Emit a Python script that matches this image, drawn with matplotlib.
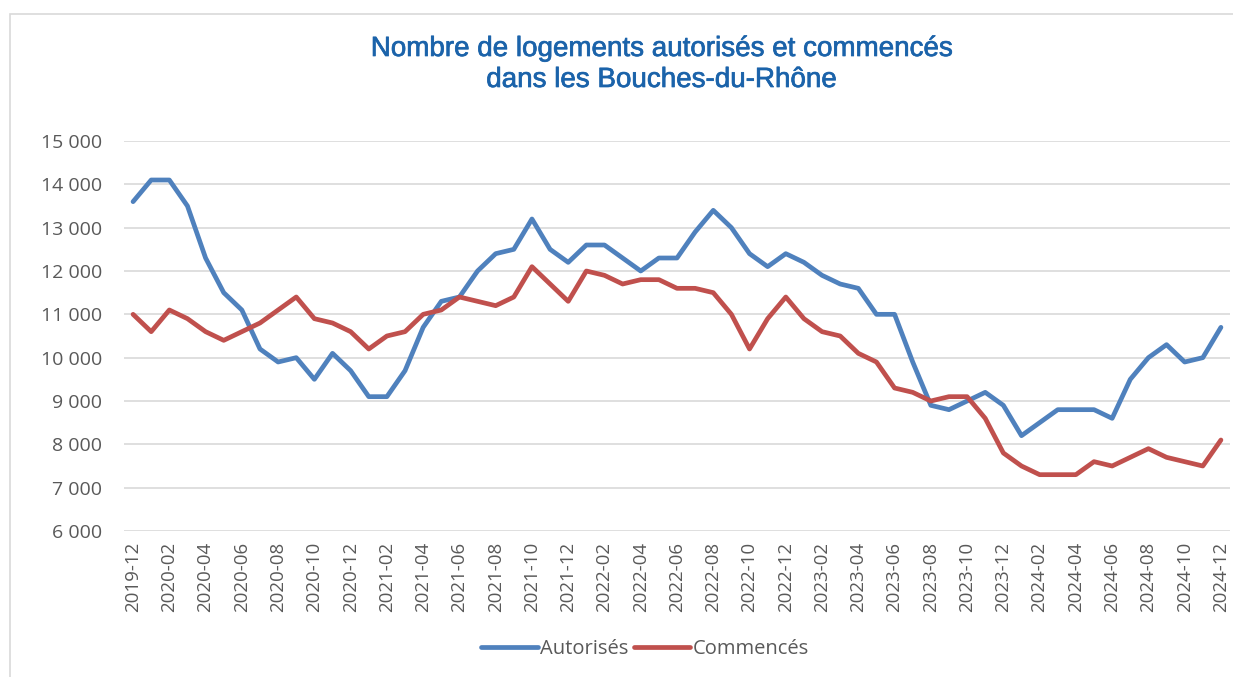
"""
Nombre de logements autorisés et commencés dans les Bouches-du-Rhône.
Recreates the chart and saves it as out.png.
"""

import matplotlib.pyplot as plt
import matplotlib.patheffects as pe
from matplotlib.patches import Rectangle

# Months, 2019-12 to 2024-12
months = []
for year in range(2019, 2025):
    for m in range(1, 13):
        if year == 2019 and m < 12:
            continue
        months.append(f"{year}-{m:02d}")

autorises = [
    13600, 14100, 14100, 13500, 12300, 11500, 11100, 10200, 9900, 10000,
    9500, 10100, 9700, 9100, 9100, 9700, 10700, 11300, 11400, 12000,
    12400, 12500, 13200, 12500, 12200, 12600, 12600, 12300, 12000, 12300,
    12300, 12900, 13400, 13000, 12400, 12100, 12400, 12200, 11900, 11700,
    11600, 11000, 11000, 9900, 8900, 8800, 9000, 9200, 8900, 8200,
    8500, 8800, 8800, 8800, 8600, 9500, 10000, 10300, 9900, 10000,
    10700,
]

commences = [
    11000, 10600, 11100, 10900, 10600, 10400, 10600, 10800, 11100, 11400,
    10900, 10800, 10600, 10200, 10500, 10600, 11000, 11100, 11400, 11300,
    11200, 11400, 12100, 11700, 11300, 12000, 11900, 11700, 11800, 11800,
    11600, 11600, 11500, 11000, 10200, 10900, 11400, 10900, 10600, 10500,
    10100, 9900, 9300, 9200, 9000, 9100, 9100, 8600, 7800, 7500,
    7300, 7300, 7300, 7600, 7500, 7700, 7900, 7700, 7600, 7500,
    8100,
]

y_ticks = list(range(6000, 15001, 1000))


def fmt(v):
    return f"{v:,}".replace(",", " ")


def main():
    fig = plt.figure(figsize=(12.33, 6.77), dpi=100)

    # light frame around the chart area
    fig.patches.append(Rectangle((10 / 1233, -0.05), 1.1, 1 - 14 / 677 + 0.05,
                                 transform=fig.transFigure, fill=False,
                                 edgecolor="#D9D9D9", linewidth=1.2))

    ax = fig.add_axes([124 / 1233, 1 - 531 / 677, 1106 / 1233, 390 / 677])

    x = list(range(len(months)))
    ax.plot(x, autorises, color="#4F81BD", linewidth=3.4, label="Autorisés",
            solid_joinstyle="round", solid_capstyle="round")
    ax.plot(x, commences, color="#C0504D", linewidth=3.4, label="Commencés",
            solid_joinstyle="round", solid_capstyle="round")

    ax.set_xlim(-0.5, len(months) - 0.5)
    ax.set_ylim(6000, 15000)
    ax.set_yticks(y_ticks)
    ax.set_yticklabels([fmt(v) for v in y_ticks], fontsize=14,
                       color="#595959", family="Open Sans")
    ax.set_xticks(x[::2])
    ax.set_xticklabels(months[::2], rotation=90, fontsize=13.5,
                       color="#595959", family="Open Sans")
    ax.tick_params(length=0, pad=8)
    ax.tick_params(axis="y", pad=16)

    ax.grid(axis="y", color="#D9D9D9", linewidth=1.2)
    ax.set_axisbelow(True)
    for s in ax.spines.values():
        s.set_visible(False)

    # title, slightly heavier than regular weight
    bold_ish = [pe.withStroke(linewidth=0.5, foreground="#1B63AA")]
    fig.text(661 / 1233, 1 - 56 / 677,
             "Nombre de logements autorisés et commencés",
             ha="center", va="baseline", fontsize=20, color="#1B63AA",
             family="Liberation Sans", path_effects=bold_ish)
    fig.text(661 / 1233, 1 - 87 / 677, "dans les Bouches-du-Rhône",
             ha="center", va="baseline", fontsize=20, color="#1B63AA",
             family="Liberation Sans", path_effects=bold_ish)

    leg = fig.legend(loc="center", bbox_to_anchor=(645 / 1233, 1 - 649 / 677),
                     ncol=2, frameon=False, handlelength=2.8,
                     handletextpad=0.1, columnspacing=0.3,
                     prop={"family": "Open Sans", "size": 14.5})
    for t in leg.get_texts():
        t.set_color("#595959")

    fig.savefig("out.png", dpi=100)
    plt.close(fig)


if __name__ == "__main__":
    main()
